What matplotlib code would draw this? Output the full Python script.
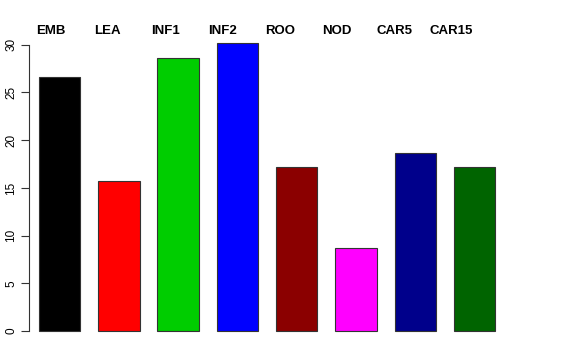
import matplotlib
matplotlib.use('Agg')
import matplotlib.pyplot as plt
import numpy as np

# values
tissues = ['EMB', 'LEA', 'INF1', 'INF2', 'ROO', 'NOD', 'CAR5', 'CAR15']
values = [26.6, 15.75, 28.6, 30.2, 17.15, 8.67, 18.7, 17.15]
colors = ['#000000', '#FF0000', '#00CD00', '#0000FF',
          '#8B0000', '#FF00FF', '#00008B', '#006400']
yticks = [0, 5, 10, 15, 20, 25, 30]

plt.rcParams['font.family'] = ['Liberation Sans', 'DejaVu Sans']

fig = plt.figure(figsize=(5.76, 3.6), dpi=100)
# axes box in pixels: left 29, right 520, top 31, bottom 342
ax = fig.add_axes([29 / 576, 1 - 342 / 360, (520 - 29) / 576, (342 - 31) / 360])

pitch = 59.3
x = np.arange(len(tissues))
ax.bar(x, values, width=0.7, color=colors, edgecolor='#333333', linewidth=0.8)

ax.set_xlim((29 - 59.5) / pitch, (520 - 59.5) / pitch)
ax.set_ylim((331 - 342) / 9.54, (331 - 31) / 9.54)

for s in ['top', 'right', 'bottom']:
    ax.spines[s].set_visible(False)
ax.spines['left'].set_bounds(0, 30)
ax.spines['left'].set_linewidth(0.8)
ax.spines['left'].set_color('#333333')
ax.set_xticks([])
ax.set_yticks(yticks)
ax.set_yticklabels([str(t) for t in yticks], rotation=90, va='center', fontsize=8.5)
ax.tick_params(axis='y', length=5.8, width=0.8, pad=2.5, color='#333333')

# labels along the top, slightly narrower spacing than the bars
for i, name in enumerate(tissues):
    lx = i * 57.3 / pitch - 9 / pitch
    ax.text(lx, (342 - 31.5) / 311, name, transform=ax.get_xaxis_transform(),
            ha='center', va='center', fontsize=9.5, fontweight='bold')

fig.savefig('out.png', dpi=100)
